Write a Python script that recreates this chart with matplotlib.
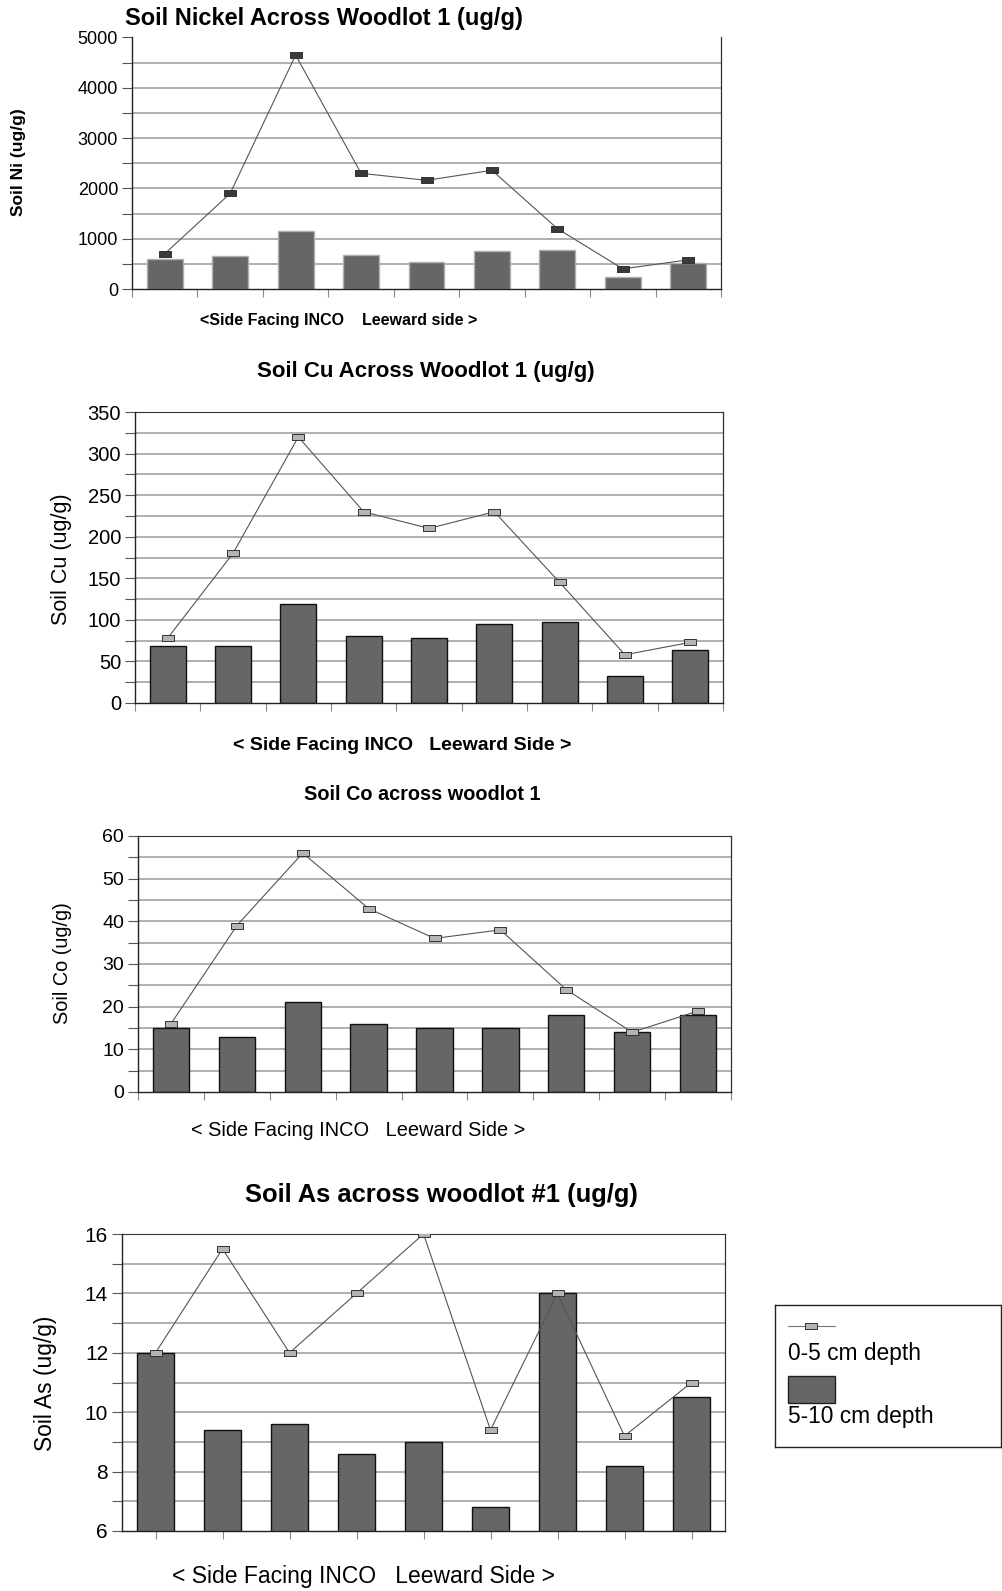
import numpy as np
import matplotlib
matplotlib.use('Agg')
import matplotlib.pyplot as plt
from matplotlib.ticker import MultipleLocator, NullFormatter
from matplotlib.patches import Rectangle
from matplotlib.lines import Line2D

plt.rcParams['font.family'] = ['Liberation Sans', 'DejaVu Sans']

# soil metals at nine sample sites, side facing INCO -> leeward side
sites = ['1', '2', '3', '4', '5', '6', '7', '8', '9']
ni_top = [700, 1900, 4650, 2300, 2160, 2360, 1200, 400, 580]
ni_sub = [600, 650, 1160, 670, 540, 760, 780, 240, 520]
cu_top = [78, 180, 320, 230, 210, 230, 145, 58, 73]
cu_sub = [69, 68, 119, 81, 78, 95, 98, 33, 64]
co_top = [16, 39, 56, 43, 36, 38, 24, 14, 19]
co_sub = [15, 13, 21, 16, 15, 15, 18, 14, 18]
as_top = [12, 15.5, 12, 14, 16, 9.4, 14, 9.2, 11]
as_sub = [12, 9.4, 9.6, 8.6, 9, 6.8, 14, 8.2, 10.5]
depth_labels = ['0-5 cm depth', '5-10 cm depth']

W, H = 1002, 1591
fig = plt.figure(figsize=(W / 100, H / 100), dpi=100)

def px(x, y):
    return x / W, 1 - y / H

def box(left, top, right, bottom):
    return [left / W, 1 - bottom / H, (right - left) / W, (bottom - top) / H]

# flat little rectangle used as the line marker
rect_marker = [(-1, -0.45), (1, -0.45), (1, 0.45), (-1, 0.45), (-1, -0.45)]
BAR = '#666666'
GRID = '#9a9a9a'

def panel(pos, top, sub, ylim, major, minor, tick_fs, mark_fc, bar_ec,
          centre_ticks=False, top_spine=True):
    ax = fig.add_axes(pos)
    x = np.arange(len(sites))
    ax.bar(x, sub, width=0.55, color=BAR, edgecolor=bar_ec, linewidth=1.0, zorder=2)
    ax.plot(x, top, color='#555555', lw=0.8, marker=rect_marker, ms=8.5,
            mfc=mark_fc, mec='#333333', mew=0.7, zorder=3)
    ax.set_xlim(-0.5, len(sites) - 0.5)
    ax.set_ylim(*ylim)
    ax.yaxis.set_major_locator(MultipleLocator(major))
    ax.yaxis.set_minor_locator(MultipleLocator(minor))
    ax.yaxis.set_minor_formatter(NullFormatter())
    if centre_ticks:
        ax.set_xticks(x)
    else:
        ax.set_xticks(np.arange(-0.5, len(sites), 1.0))
    ax.set_xticklabels([])
    ax.tick_params(axis='y', which='both', direction='out', length=7,
                   width=0.8, color='#555555', labelsize=tick_fs, pad=3)
    ax.tick_params(axis='x', direction='out', length=6, width=0.8,
                   color='#888888')
    # gridlines every minor step, stopping below the top edge
    ax.hlines(np.arange(ylim[0] + minor, ylim[1], minor), -0.5, len(sites) - 0.5,
              colors=GRID, lw=1.1, zorder=0)
    for s in ['left', 'bottom']:
        ax.spines[s].set_color('#222222')
        ax.spines[s].set_linewidth(1.0)
    ax.spines['right'].set_color('#333333')
    ax.spines['right'].set_linewidth(0.9)
    ax.spines['top'].set_visible(top_spine)
    ax.spines['top'].set_color('#333333')
    return ax

# Nickel
ax1 = panel(box(132, 37.5, 721, 289), ni_top, ni_sub, (0, 5000), 1000, 500,
            13, '#3a3a3a', '#b0b0b0', top_spine=False)
fig.text(*px(324, 18), 'Soil Nickel Across Woodlot 1 (ug/g)', fontsize=17,
         fontweight='bold', ha='center', va='center')
fig.text(*px(18.5, 162), 'Soil Ni (ug/g)', fontsize=12.5, fontweight='bold',
         rotation=90, ha='center', va='center')
fig.text(*px(339, 320.5), '<Side Facing INCO    Leeward side >', fontsize=11.5,
         fontweight='bold', ha='center', va='center')

# Copper
ax2 = panel(box(135, 412, 723, 703), cu_top, cu_sub, (0, 350), 50, 25,
            14.5, '#b4b4b4', '#111111')
fig.text(*px(426, 372), 'Soil Cu Across Woodlot 1 (ug/g)', fontsize=16,
         fontweight='bold', ha='center', va='center')
fig.text(*px(61, 559), 'Soil Cu (ug/g)', fontsize=15.5, rotation=90,
         ha='center', va='center')
fig.text(*px(402.5, 745), '< Side Facing INCO   Leeward Side >', fontsize=14,
         fontweight='bold', ha='center', va='center')

# Cobalt
ax3 = panel(box(138, 836, 731, 1092), co_top, co_sub, (0, 60), 10, 5,
            14, '#b4b4b4', '#111111')
fig.text(*px(422, 794), 'Soil Co across woodlot 1', fontsize=14.3,
         fontweight='bold', ha='center', va='center')
fig.text(*px(63, 963.5), 'Soil Co (ug/g)', fontsize=14.3, rotation=90,
         ha='center', va='center')
fig.text(*px(358, 1130), '< Side Facing INCO   Leeward Side >', fontsize=14.4,
         ha='center', va='center')

# Arsenic
ax4 = panel(box(122, 1234, 725, 1531), as_top, as_sub, (6, 16), 2, 1,
            15, '#b4b4b4', '#111111', centre_ticks=True)
fig.text(*px(441, 1195), 'Soil As across woodlot #1 (ug/g)', fontsize=18.4,
         fontweight='bold', ha='center', va='center')
fig.text(*px(45.5, 1383), 'Soil As (ug/g)', fontsize=16.4, rotation=90,
         ha='center', va='center')
fig.text(*px(364, 1577), '< Side Facing INCO   Leeward Side >', fontsize=16.5,
         ha='center', va='center')

# legend box: symbol above its label
lg = fig.add_axes(box(775, 1305, 1001, 1447))
lg.set_xlim(0, 1)
lg.set_ylim(0, 1)
lg.set_xticks([])
lg.set_yticks([])
for s in lg.spines.values():
    s.set_color('#222222')
    s.set_linewidth(1.0)
lg.add_line(Line2D([0.058, 0.265], [0.855, 0.855], color='#777777', lw=0.8))
lg.add_line(Line2D([0.16], [0.855], marker=rect_marker, ms=8.5, mfc='#b4b4b4',
                   mec='#333333', mew=0.7, lw=0))
lg.text(0.058, 0.655, depth_labels[0], fontsize=16.4, va='center', ha='left')
lg.add_patch(Rectangle((0.058, 0.31), 0.208, 0.19, facecolor=BAR,
                       edgecolor='#222222', lw=1.0))
lg.text(0.058, 0.218, depth_labels[1], fontsize=16.4, va='center', ha='left')

fig.savefig('out.png', dpi=100)
